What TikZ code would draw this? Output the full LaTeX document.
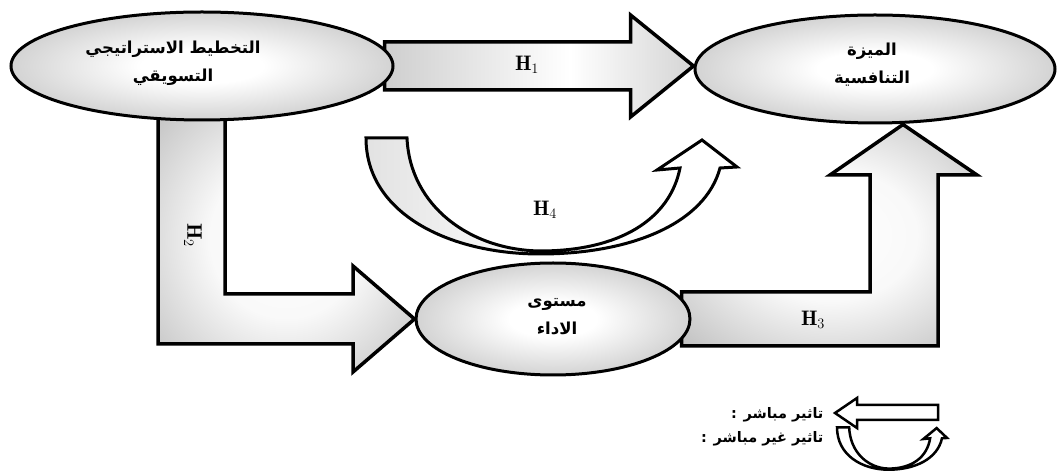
\documentclass[tikz,border=0pt]{standalone}
\usepackage{fontspec}
\newfontfamily\arabicfont[Script=Arabic]{DejaVu Sans}
\TeXXeTstate=1
\usetikzlibrary{shapes.geometric,calc}
\pgfdeclarelayer{bg}
\pgfsetlayers{bg,main}
\pgfdeclareradialshading{ellshade}{\pgfpoint{0bp}{0bp}}{color(0bp)=(white); color(8bp)=(white); color(50bp)=(gray!85)}
\pgfdeclarehorizontalshading{hshade}{100bp}{color(0bp)=(gray!70); color(55bp)=(white); color(100bp)=(gray!75)}
\pgfdeclareradialshading{blkshade}{\pgfpoint{0bp}{0bp}}{color(0bp)=(white); color(15bp)=(white!95!gray); color(50bp)=(gray!80)}
\pgfdeclarehorizontalshading{ushade}{100bp}{color(0bp)=(gray!45); color(50bp)=(white); color(100bp)=(white)}
\newcommand\UArrowPath{(366,336) -- (407,336) .. controls (410,268) and (470,224) .. (540,223) .. controls (620,223) and (670,255) .. (680,306) -- (657,304) -- (702,334) -- (737,307) -- (720,306) .. controls (705,250) and (630,220) .. (540,220) .. controls (450,220) and (366,260) .. (366,336) -- cycle}
\begin{document}
\begin{tikzpicture}[x=1pt,y=1pt,
  ell/.style={ellipse, draw, line width=3pt, shading=ellshade, inner sep=0pt},
  blk/.style={draw, line width=3.5pt, line join=miter},
  hlab/.style={font=\fontsize{21}{24}\selectfont},
  artext/.style={font=\arabicfont\bfseries\fontsize{16.5}{28}\selectfont, align=center},
  legtext/.style={anchor=east, font=\arabicfont\bfseries\fontsize{14.5}{16}\selectfont}]
\useasboundingbox (0,0) rectangle (1058,474);

% ellipses
\node[ell, minimum width=382pt, minimum height=108pt] (e1) at (202,408) {};
\node[ell, minimum width=360pt, minimum height=108pt] (e2) at (875,405) {};
\node[ell, minimum width=274pt, minimum height=112pt] (e3) at (553,155) {};

\node[artext] (e1t) at (173,411) {\beginR التخطيط الاستراتيجي\endR\\\beginR التسويقي\endR};
\node[artext] (e2t) at (872,409) {\beginR الميزة\endR\\\beginR التنافسية\endR};
\node[artext] (e3t) at (557,157) {\beginR مستوى\endR\\\beginR الاداء\endR};

\coordinate (t1) at (e2.west |- e1.east);
\coordinate (t3) at ($(e2.south)+(28,0)$);

\begin{pgfonlayer}{bg}
% H1
\draw[blk, shading=hshade]
  ($(e1.east)+(-10,24)$) -- ($(t1)+(-63,24)$) -- ($(t1)+(-63,51)$) -- (t1)
  -- ($(t1)+(-63,-51)$) -- ($(t1)+(-63,-24)$) -- ($(e1.east)+(-10,-24)$) -- cycle;
% H2
\draw[blk, shading=blkshade]
  ($(e1.south)+(-44,16)$) -- ($(e1.south)+(23,16)$)
  -- (225,180) -- (353,180) -- (353,208) -- (e3.west) -- (353,102) -- (353,130)
  -- (158,130) -- cycle;
% H3
\draw[blk, shading=blkshade]
  ($(e3.east)+(-10,27)$) -- (870,182) -- (870,299) -- (830,299) -- (t3)
  -- (977,299) -- (938,299) -- (938,128) -- ($(e3.east)+(-10,-27)$) -- cycle;
\end{pgfonlayer}

% H4 curved arrow
\draw[blk, line width=3pt, shading=ushade] \UArrowPath;

% labels
\node[hlab] (h1) at (527,409) {$\mathbf{H}_1$};
\node[hlab, rotate=-90] (h2) at (193,239) {$\mathbf{H}_2$};
\node[hlab] (h3) at (813,154) {$\mathbf{H}_3$};
\node[hlab] (h4) at (545,264) {$\mathbf{H}_4$};

% legend
\draw[blk, line width=2.5pt, fill=white]
  (938,69) -- (857,69) -- (857,76) -- (835,61) -- (857,46) -- (857,54) -- (938,54) -- cycle;
\begin{scope}[shift={(728.5,-76)}, xscale=0.2965, yscale=0.365]
\draw[blk, line width=2.5pt, fill=white] \UArrowPath;
\end{scope}
\node[legtext] (l1) at (827,59) {: \beginR تاثير مباشر\endR};
\node[legtext] (l2) at (827,35) {: \beginR تاثير غير مباشر\endR};
\end{tikzpicture}
\end{document}
